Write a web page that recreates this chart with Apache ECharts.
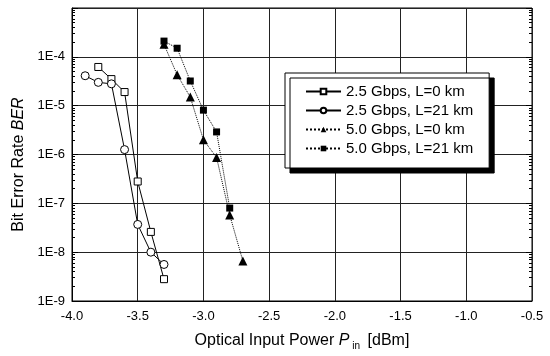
<!DOCTYPE html>
<html>
<head>
<meta charset="utf-8">
<script src="https://cdn.jsdelivr.net/npm/echarts@6/dist/echarts.min.js"></script>
<style>
  html, body { margin: 0; padding: 0; background: #fff; }
  #chart { width: 550px; height: 356px; }
</style>
</head>
<body>
<div id="chart"></div>
<script>
// values
const names = ['2.5 Gbps, L=0 km', '2.5 Gbps, L=21 km', '5.0 Gbps, L=0 km', '5.0 Gbps, L=21 km'];

const pSq25 = [-3.8, -3.7, -3.6, -3.5, -3.4, -3.3];
const berSq25 = [6.2e-5, 3.5e-5, 1.9e-5, 2.8e-7, 2.6e-8, 2.8e-9];

const pCi25 = [-3.9, -3.8, -3.7, -3.6, -3.5, -3.4, -3.3];
const berCi25 = [4.1e-5, 3.0e-5, 2.8e-5, 1.26e-6, 3.7e-8, 1.0e-8, 5.6e-9];

const pTri50 = [-3.3, -3.2, -3.1, -3.0, -2.9, -2.8, -2.7];
const berTri50 = [1.8e-4, 4.3e-5, 1.5e-5, 2.0e-6, 8.7e-7, 5.8e-8, 6.6e-9];

const pSq50 = [-3.3, -3.2, -3.1, -3.0, -2.9, -2.8];
const berSq50 = [2.1e-4, 1.5e-4, 3.2e-5, 8.1e-6, 2.9e-6, 8.0e-8];

const xTicks = [-4.0, -3.5, -3.0, -2.5, -2.0, -1.5, -1.0, -0.5];
const yMajor = [1e-9, 1e-8, 1e-7, 1e-6, 1e-5, 1e-4, 1e-3];

let yMinor = [];
for (let e = -9; e < -3; e++) {
    for (let m = 2; m <= 9; m++) yMinor.push(m * Math.pow(10, e));
}

const pair = (xs, ys) => xs.map((x, i) => [x, ys[i]]);

const font = 'Liberation Sans, Arial, sans-serif';

let chart = echarts.init(document.getElementById('chart'), null, {renderer: 'canvas'});

function yAx(pos, custom, len, extra) {
    return Object.assign({
        type: 'log',
        logBase: 10,
        min: 1e-9,
        max: 1e-3,
        position: pos,
        axisLine: {show: false},
        axisLabel: {show: false},
        splitLine: {show: false},
        axisTick: {show: true, inside: true, length: len, customValues: custom,
            lineStyle: {color: '#000', width: 1}}
    }, extra || {});
}

chart.setOption({
    animation: false,
    grid: {
        left: 72, right: 18, top: 8, bottom: 53,
        show: true, borderColor: '#000', borderWidth: 1
    },
    legend: {
        orient: 'vertical',
        left: 285,
        top: 73,
        padding: [11, 16, 12, 20],
        backgroundColor: '#fff',
        borderColor: '#000',
        borderWidth: 1,
        borderRadius: 0,
        shadowColor: '#000',
        shadowBlur: 0,
        shadowOffsetX: 5,
        shadowOffsetY: 5,
        itemWidth: 35,
        itemHeight: 7,
        itemGap: 4,
        textStyle: {fontFamily: font, fontSize: 15, color: '#000'},
        data: names
    },
    xAxis: {
        type: 'value',
        min: -4.0,
        max: -0.5,
        interval: 0.5,
        name: '{n|Optical Input Power }{i|P}{s|in}{n| [dBm]}',
        nameLocation: 'middle',
        nameGap: 29,
        nameTextStyle: {
            fontFamily: font, color: '#000',
            rich: {
                n: {fontFamily: font, fontSize: 16, color: '#000'},
                i: {fontFamily: font, fontSize: 16, fontStyle: 'italic', color: '#000'},
                s: {fontFamily: font, fontSize: 10, color: '#000', padding: [11, 3, 0, 3]}
            }
        },
        axisLine: {show: true, lineStyle: {color: '#000', width: 1}},
        axisTick: {show: false},
        axisLabel: {
            fontFamily: font, fontSize: 13, color: '#000', margin: 9,
            customValues: xTicks,
            formatter: v => v.toFixed(1)
        },
        splitLine: {show: true, lineStyle: {color: '#222', width: 1}}
    },
    yAxis: [
        yAx('left', yMajor, 6, {
            name: '{n|Bit Error Rate }{i|BER}',
            nameLocation: 'middle',
            nameGap: 40,
            nameTextStyle: {
                padding: [0, 20, 0, 0],
                rich: {
                    n: {fontFamily: font, fontSize: 16, color: '#000'},
                    i: {fontFamily: font, fontSize: 16, fontStyle: 'italic', color: '#000'}
                }
            },
            axisLine: {show: true, lineStyle: {color: '#000', width: 1}},
            axisLabel: {
                show: true, fontFamily: font, fontSize: 13, color: '#000', margin: 7,
                customValues: yMajor.slice(0, 6),
                formatter: v => '1E' + Math.round(Math.log10(v))
            },
            splitLine: {show: true, lineStyle: {color: '#222', width: 1}}
        }),
        yAx('left', yMinor, 3),
        yAx('right', yMajor, 6),
        yAx('right', yMinor, 3)
    ],
    series: [
        {
            name: names[0], type: 'line', yAxisIndex: 0,
            data: pair(pSq25, berSq25),
            symbol: 'rect', symbolSize: 7,
            lineStyle: {color: '#000', width: 1, type: 'solid'},
            itemStyle: {color: '#fff', borderColor: '#000', borderWidth: 1}
        },
        {
            name: names[1], type: 'line', yAxisIndex: 0,
            data: pair(pCi25, berCi25),
            symbol: 'circle', symbolSize: 8,
            lineStyle: {color: '#000', width: 1, type: 'solid'},
            itemStyle: {color: '#fff', borderColor: '#000', borderWidth: 1}
        },
        {
            name: names[2], type: 'line', yAxisIndex: 0,
            data: pair(pTri50, berTri50),
            symbol: 'triangle', symbolSize: 9,
            lineStyle: {color: '#000', width: 1, type: 'dotted'},
            itemStyle: {color: '#000', borderColor: '#000', borderWidth: 0}
        },
        {
            name: names[3], type: 'line', yAxisIndex: 0,
            data: pair(pSq50, berSq50),
            symbol: 'rect', symbolSize: 7,
            lineStyle: {color: '#000', width: 1, type: 'dotted'},
            itemStyle: {color: '#000', borderColor: '#000', borderWidth: 0}
        }
    ]
});
</script>
</body>
</html>
